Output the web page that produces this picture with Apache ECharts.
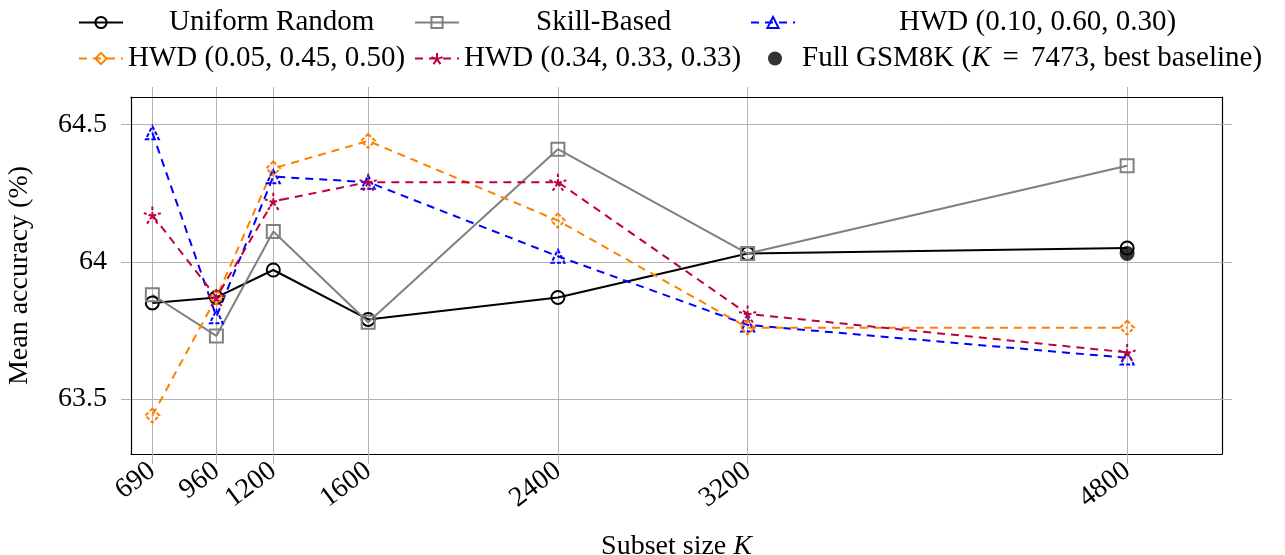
<!DOCTYPE html>
<html>
<head>
<meta charset="utf-8">
<script src="https://cdn.jsdelivr.net/npm/echarts@6/dist/echarts.min.js"></script>
<style>
html,body{margin:0;padding:0;background:#fff;}
#chart{width:1285px;height:555px;}
</style>
</head>
<body>
<div id="chart"></div>
<script>
// ---- data ----
const kValues = [690, 960, 1200, 1600, 2400, 3200, 4800];
const xTickLabels = ['690', '960', '1200', '1600', '2400', '3200', '4800'];
const yTicks = [63.5, 64, 64.5];
const uniformRandom = [63.85, 63.87, 63.97, 63.79, 63.87, 64.03, 64.05];
const skillBased = [63.88, 63.73, 64.11, 63.78, 64.41, 64.03, 64.35];
const hwd_10_60_30 = [64.47, 63.80, 64.31, 64.29, 64.02, 63.77, 63.65];
const hwd_05_45_50 = [63.44, 63.87, 64.34, 64.44, 64.15, 63.76, 63.76];
const hwd_34_33_33 = [64.17, 63.87, 64.22, 64.29, 64.29, 63.81, 63.67];
const fullGsm8kX = [4800];
const fullGsm8kY = [64.03];
const seriesNames = ['Uniform Random', 'Skill-Based', 'HWD (0.10, 0.60, 0.30)',
  'HWD (0.05, 0.45, 0.50)', 'HWD (0.34, 0.33, 0.33)', 'Full GSM8K'];

const FONT = 'Liberation Serif';
const FS = 28;
const LFS = 29;
const pairs = (xs, ys) => xs.map((x, i) => [x, ys[i]]);
const asterisk = 'path://M50 50L50 0M50 50L97.55 34.55M50 50L79.39 90.45M50 50L20.61 90.45M50 50L2.45 34.55';

function lineSeries(name, ys, color, symbol, dashed, size) {
  return {
    name: name, type: 'line', data: pairs(kValues, ys),
    symbol: symbol, symbolSize: size, showSymbol: true,
    lineStyle: {color: color, width: 2, type: dashed ? [8, 6] : 'solid'},
    itemStyle: {color: 'rgba(0,0,0,0)', borderColor: color, borderWidth: 2,
      borderType: dashed ? [4, 2] : 'solid'},
    emphasis: {disabled: true}, z: 3
  };
}

const chart = echarts.init(document.getElementById('chart'), null, {renderer: 'canvas'});
const grey = '#b3b3b3';
const axisCommon = {
  axisLine: {show: true, onZero: false, lineStyle: {color: '#000', width: 1.2}},
  axisTick: {show: true, inside: false, length: 10, lineStyle: {color: grey, width: 1}},
};
function legend(name, left, top, pad, extra) {
  return Object.assign({
    show: true, data: [name], left: left, top: top, orient: 'horizontal',
    itemWidth: 44, itemHeight: 14, itemGap: 0, padding: 0,
    textStyle: {fontFamily: FONT, fontSize: LFS, color: '#000', padding: [0, 0, 0, pad]},
    selectedMode: false
  }, extra || {});
}

const option = {
  animation: false,
  backgroundColor: '#fff',
  grid: {left: 131, right: 63, top: 97, bottom: 101, containLabel: false, outerBoundsMode: 'none'},
  legend: [
    legend(seriesNames[0], 78, 8, 41),
    legend(seriesNames[1], 414, 8, 72),
    legend(seriesNames[2], 750, 8, 99),
    legend(seriesNames[3], 78, 44, 0),
    legend(seriesNames[4], 414, 44, 0),
    legend(seriesNames[5], 768, 44, 0, {
      formatter: () => '{n|Full GSM8K (}{i|K}{e|=}{n|7473, best baseline)}',
      textStyle: {fontFamily: FONT, fontSize: LFS, color: '#000',
        rich: {n: {fontFamily: FONT, fontSize: LFS},
          i: {fontFamily: FONT, fontSize: LFS, fontStyle: 'italic'},
          e: {fontFamily: FONT, fontSize: LFS, padding: [0, 12, 0, 12]}}}
    })
  ],
  xAxis: [
    Object.assign({
      type: 'value', min: 600, max: 5200, position: 'bottom',
      name: 'Subset size {i|K}', nameLocation: 'middle', nameGap: 79,
      nameTextStyle: {fontFamily: FONT, fontSize: FS, color: '#000',
        rich: {i: {fontFamily: FONT, fontSize: FS, fontStyle: 'italic', color: '#000'}}},
      axisLabel: {show: true, customValues: kValues, rotate: 37, margin: 14,
        fontFamily: FONT, fontSize: FS, color: '#000',
        formatter: v => xTickLabels[kValues.indexOf(v)]},
      splitLine: {show: true, lineStyle: {color: grey, width: 1}}
    }, axisCommon, {axisTick: Object.assign({}, axisCommon.axisTick, {customValues: kValues})}),
    Object.assign({
      type: 'value', min: 600, max: 5200, position: 'top',
      axisLabel: {show: false, customValues: kValues},
      splitLine: {show: false}
    }, axisCommon, {axisTick: Object.assign({}, axisCommon.axisTick, {customValues: kValues})})
  ],
  yAxis: [
    Object.assign({
      type: 'value', min: 63.3, max: 64.6, position: 'left',
      name: 'Mean accuracy (%)', nameLocation: 'middle', nameGap: 97,
      nameTextStyle: {fontFamily: FONT, fontSize: FS, color: '#000'},
      axisLabel: {show: true, customValues: yTicks, margin: 24,
        fontFamily: FONT, fontSize: FS, color: '#000', formatter: v => String(v)},
      splitLine: {show: true, lineStyle: {color: grey, width: 1}}
    }, axisCommon, {axisTick: Object.assign({}, axisCommon.axisTick, {customValues: yTicks})}),
    Object.assign({
      type: 'value', min: 63.3, max: 64.6, position: 'right',
      axisLabel: {show: false, customValues: yTicks},
      splitLine: {show: false}
    }, axisCommon, {axisTick: Object.assign({}, axisCommon.axisTick, {customValues: yTicks})})
  ],
  series: [
    lineSeries(seriesNames[0], uniformRandom, '#000000', 'circle', false, 13),
    lineSeries(seriesNames[1], skillBased, '#808080', 'rect', false, 13),
    lineSeries(seriesNames[2], hwd_10_60_30, '#0000ff', 'triangle', true, 13),
    lineSeries(seriesNames[3], hwd_05_45_50, '#ff8000', 'diamond', true, 14),
    lineSeries(seriesNames[4], hwd_34_33_33, '#bf0040', asterisk, true, 17),
    {
      name: seriesNames[5], type: 'scatter', data: pairs(fullGsm8kX, fullGsm8kY),
      symbol: 'circle', symbolSize: 15, itemStyle: {color: '#000'}, z: 4,
      emphasis: {disabled: true}
    }
  ]
};
chart.setOption(option);
</script>
</body>
</html>
